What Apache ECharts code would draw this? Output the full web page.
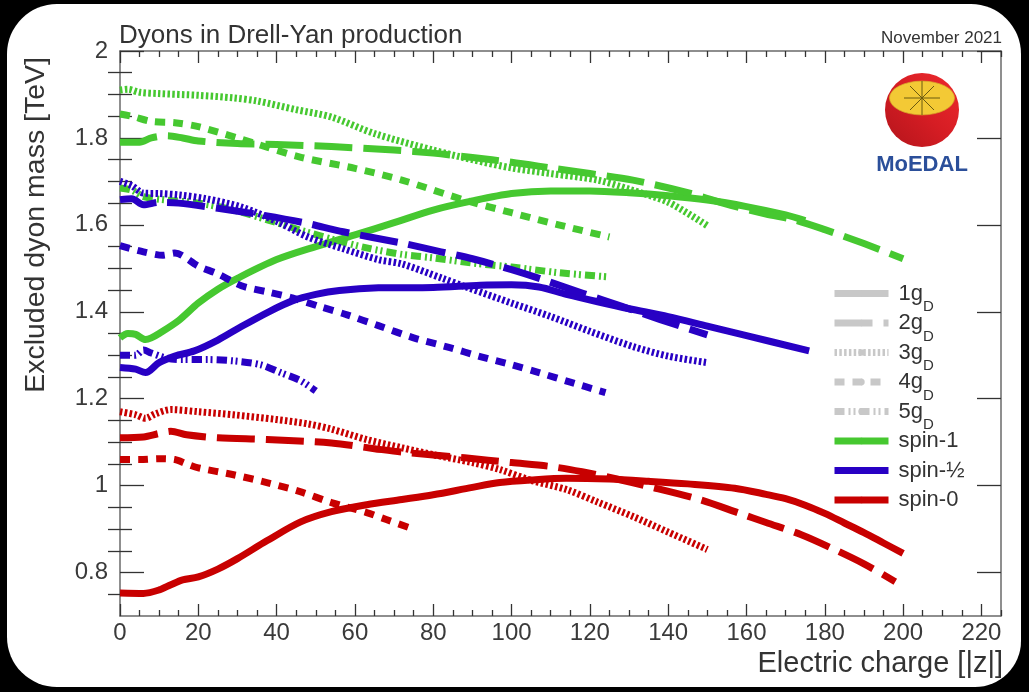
<!DOCTYPE html>
<html>
<head>
<meta charset="utf-8">
<script src="https://cdn.jsdelivr.net/npm/echarts@6/dist/echarts.min.js"></script>
<style>
  html, body { margin: 0; padding: 0; background: #000; width: 1029px; height: 692px; overflow: hidden; }
  #panel { position: absolute; left: 7px; top: 4px; width: 1014px; height: 683px; background: #fff; border-radius: 50px 50px 46px 50px; }
  #chart { position: absolute; left: 0; top: 0; width: 1029px; height: 692px; }
</style>
</head>
<body>
<div id="panel"></div>
<div id="chart"></div>
<script>
// ---- tick values / labels ----
const xTickValues = [0, 20, 40, 60, 80, 100, 120, 140, 160, 180, 200, 220];
const yTickValues = [0.8, 1.0, 1.2, 1.4, 1.6, 1.8, 2.0];

// ---- spin-1 (green) ----
const spin1_1gD = [[0,1.34],[2,1.35],[4,1.348],[6.5,1.336],[8,1.34],[10,1.35],[15,1.38],[20,1.42],[25,1.452],[30,1.477],[40,1.52],[50,1.55],[60,1.577],[70,1.605],[80,1.634],[90,1.655],[100,1.672],[110,1.678],[120,1.678],[130,1.674],[140,1.667],[150,1.657],[160,1.642],[170,1.623],[175,1.61]];
const spin1_2gD = [[0,1.79],[5,1.79],[8,1.80],[12,1.805],[16,1.80],[20,1.793],[30,1.787],[40,1.785],[54,1.78],[70,1.772],[80,1.765],[90,1.755],[100,1.744],[110,1.731],[120,1.718],[131,1.703],[145,1.674],[156,1.645],[165,1.625],[172,1.612],[180,1.589],[190,1.557],[200,1.522]];
const spin1_3gD = [[0,1.91],[2,1.912],[5,1.905],[10,1.902],[20,1.898],[29,1.892],[35,1.885],[45,1.865],[54,1.848],[65,1.81],[80,1.772],[90,1.75],[100,1.731],[110,1.718],[122,1.703],[130,1.682],[140,1.652],[150,1.598]];
const spin1_4gD = [[0,1.855],[3,1.85],[8,1.838],[14,1.835],[20,1.826],[30,1.80],[46,1.756],[60,1.73],[72,1.703],[88,1.657],[100,1.628],[112,1.60],[125,1.572]];
const spin1_5gD = [[0,1.685],[3,1.68],[6,1.665],[12,1.657],[20,1.65],[29,1.634],[40,1.605],[46,1.588],[55,1.565],[63,1.547],[72,1.532],[80,1.524],[90,1.512],[100,1.503],[112,1.49],[125,1.48]];

// ---- spin-1/2 (blue) ----
const spinHalf_1gD = [[0,1.272],[4,1.268],[6.5,1.26],[10,1.283],[14,1.298],[19,1.31],[25,1.335],[31,1.366],[38,1.4],[44,1.425],[50,1.44],[56,1.449],[66,1.455],[80,1.456],[92,1.461],[100,1.462],[107,1.457],[114,1.44],[122,1.423],[130,1.407],[140,1.389],[150,1.367],[160,1.345],[176,1.31]];
const spinHalf_2gD = [[0,1.658],[3,1.66],[6,1.646],[10,1.652],[15,1.65],[25,1.638],[36,1.623],[47,1.605],[57,1.584],[72,1.558],[82,1.538],[90,1.522],[100,1.497],[108,1.474],[118,1.443],[128,1.413],[138,1.382],[150,1.347]];
const spinHalf_3gD = [[0,1.70],[3,1.69],[6,1.673],[10,1.672],[15,1.669],[22,1.66],[31,1.641],[40,1.608],[48,1.572],[57,1.545],[66,1.52],[72,1.51],[82,1.478],[89,1.455],[100,1.42],[110,1.389],[120,1.355],[131,1.32],[140,1.298],[150,1.283]];
const spinHalf_4gD = [[0,1.552],[6,1.538],[11,1.53],[14,1.535],[20,1.505],[25,1.487],[31,1.46],[38,1.445],[44,1.432],[51,1.412],[58,1.393],[66,1.368],[75,1.34],[84,1.318],[92,1.297],[100,1.278],[107,1.26],[115,1.238],[124,1.214]];
const spinHalf_5gD = [[0,1.30],[4,1.30],[6,1.312],[8,1.305],[12,1.293],[16,1.29],[22,1.29],[29,1.287],[36,1.278],[41,1.26],[46,1.242],[50,1.218]];

// ---- spin-0 (red) ----
const spin0_1gD = [[0,0.753],[6,0.752],[10,0.76],[13,0.772],[16,0.783],[20,0.79],[25,0.808],[30,0.832],[37.5,0.873],[46,0.916],[54,0.94],[63,0.956],[72,0.968],[80,0.979],[90,0.996],[97,1.007],[105,1.013],[114,1.017],[125,1.015],[135,1.01],[145,1.004],[157,0.994],[165,0.98],[170,0.97],[175,0.955],[180,0.936],[185,0.914],[190,0.892],[195,0.868],[200,0.844]];
const spin0_2gD = [[0,1.11],[6,1.112],[10,1.12],[13,1.125],[17,1.117],[25,1.11],[37.5,1.106],[54,1.098],[65,1.085],[72,1.077],[88,1.064],[100,1.053],[110,1.044],[118,1.032],[126,1.017],[135,0.998],[148,0.968],[158,0.937],[165,0.915],[174,0.887],[182,0.855],[190,0.82],[198,0.779]];
const spin0_3gD = [[0,1.17],[4,1.163],[6.5,1.155],[9,1.165],[13,1.175],[20,1.17],[29,1.163],[40,1.152],[48,1.142],[54,1.13],[63,1.106],[72,1.087],[80,1.071],[90,1.053],[97,1.037],[105,1.012],[114,0.991],[122,0.962],[131,0.929],[140,0.893],[150,0.853]];
const spin0_4gD = [[0,1.06],[5,1.06],[10,1.062],[14,1.06],[17,1.05],[20,1.041],[29,1.025],[37.5,1.007],[46,0.986],[54,0.961],[63,0.938],[68,0.922],[74,0.903]];

// ---- legend entries ----
const legendCharges = ['1gD', '2gD', '3gD', '4gD', '5gD'];
const legendSpins = ['spin-1', 'spin-½', 'spin-0'];

const GREEN = '#46c830', BLUE = '#2800c4', RED = '#c80000', GRAY = '#c8c8c8';
const FONT = '"Liberation Sans", Arial, Helvetica, sans-serif';
const DASH = {
  '1gD': 'solid',
  '2gD': [38, 11],
  '3gD': [2.5, 2.3],
  '4gD': [10, 8],
  '5gD': [10, 4, 2, 3, 2, 4]
};

function lineSeries(name, data, color, charge) {
  return {
    name: name, type: 'line', data: data, symbol: 'none', smooth: 0.3,
    xAxisIndex: 0, yAxisIndex: 0,
    lineStyle: { color: color, width: 7, type: DASH[charge], cap: 'butt', join: 'round' },
    itemStyle: { color: color },
    emphasis: { disabled: true }, silent: true, z: 3
  };
}

const series = [
  lineSeries('spin-1 1gD', spin1_1gD, GREEN, '1gD'),
  lineSeries('spin-1 2gD', spin1_2gD, GREEN, '2gD'),
  lineSeries('spin-1 3gD', spin1_3gD, GREEN, '3gD'),
  lineSeries('spin-1 4gD', spin1_4gD, GREEN, '4gD'),
  lineSeries('spin-1 5gD', spin1_5gD, GREEN, '5gD'),
  lineSeries('spin-½ 1gD', spinHalf_1gD, BLUE, '1gD'),
  lineSeries('spin-½ 2gD', spinHalf_2gD, BLUE, '2gD'),
  lineSeries('spin-½ 3gD', spinHalf_3gD, BLUE, '3gD'),
  lineSeries('spin-½ 4gD', spinHalf_4gD, BLUE, '4gD'),
  lineSeries('spin-½ 5gD', spinHalf_5gD, BLUE, '5gD'),
  lineSeries('spin-0 1gD', spin0_1gD, RED, '1gD'),
  lineSeries('spin-0 2gD', spin0_2gD, RED, '2gD'),
  lineSeries('spin-0 3gD', spin0_3gD, RED, '3gD'),
  lineSeries('spin-0 4gD', spin0_4gD, RED, '4gD')
];
// legend-only series (no data)
legendCharges.forEach(c => series.push(lineSeries(c, [], GRAY, c)));
legendSpins.forEach((s, i) => series.push(lineSeries(s, [], [GREEN, BLUE, RED][i], '1gD')));

const xMinor = [], yMinor = [];
for (let v = 0; v <= 225; v += 5) if (v % 20 !== 0) xMinor.push(v);
for (let k = 15; k <= 39; k++) { const v = +(k * 0.05).toFixed(2); if (Math.round(v * 100) % 20 !== 0) yMinor.push(v); }

const AXLINE = { show: true, onZero: false, lineStyle: { color: '#6a6a6a', width: 1.5 } };
const TICKC = { color: '#333', width: 1.3 };

function xAx(pos, major, labels) {
  return {
    type: 'value', min: 0, max: 225, position: pos,
    axisLine: major ? AXLINE : { show: false },
    axisTick: { show: true, inside: true, length: major ? 12 : 6, lineStyle: TICKC, customValues: major ? xTickValues : xMinor },
    axisLabel: labels ? { show: true, customValues: xTickValues, fontSize: 24, fontFamily: FONT, color: '#3a3a3a', margin: 5 } : { show: false },
    splitLine: { show: false }
  };
}
function yAx(pos, major, labels) {
  return {
    type: 'value', min: 0.7, max: 2, position: pos,
    axisLine: major ? AXLINE : { show: false },
    axisTick: { show: true, inside: true, length: major ? 24 : 12, lineStyle: TICKC, customValues: major ? yTickValues : yMinor },
    axisLabel: labels ? { show: true, customValues: yTickValues, fontSize: 24, fontFamily: FONT, color: '#3a3a3a', margin: 12 } : { show: false },
    splitLine: { show: false }
  };
}

const chart = echarts.init(document.getElementById('chart'), null, { renderer: 'canvas' });
chart.setOption({
  backgroundColor: 'transparent',
  animation: false,
  textStyle: { fontFamily: FONT },
  title: [
    { text: 'Dyons in Drell-Yan production', left: 119, top: 23, padding: 0,
      textStyle: { fontSize: 26, fontWeight: 'normal', color: '#333', fontFamily: FONT } },
    { text: 'November 2021', right: 27, top: 30, padding: 0,
      textStyle: { fontSize: 17, fontWeight: 'normal', color: '#333', fontFamily: FONT } }
  ],
  grid: { left: 120, right: 28, top: 51, bottom: 76, containLabel: false, outerBoundsMode: 'none' },
  xAxis: [xAx('bottom', true, true), xAx('bottom', false, false), xAx('top', true, false), xAx('top', false, false)],
  yAxis: [yAx('left', true, true), yAx('left', false, false), yAx('right', true, false), yAx('right', false, false)],
  legend: {
    data: legendCharges.concat(legendSpins),
    orient: 'vertical', left: 831, top: 279, padding: 0, itemWidth: 54, itemHeight: 8, itemGap: -6,
    selectedMode: false,
    lineStyle: { width: 7 },
    formatter: n => n.endsWith('gD') ? n.slice(0, -1) + '{s|D}' : n + '{s|\u200b}',
    textStyle: {
      fontSize: 22, color: '#333', fontFamily: FONT, lineHeight: 29, padding: [0, 0, 0, 5],
      rich: { s: { fontSize: 15, color: '#333', fontFamily: FONT, height: 2, lineHeight: 29, verticalAlign: 'bottom' } }
    }
  },
  graphic: [
    { type: 'text', x: 36, y: 57, rotation: Math.PI / 2, silent: true,
      style: { text: 'Excluded dyon mass [TeV]', font: '28.5px ' + FONT, fill: '#333', textAlign: 'right', textVerticalAlign: 'middle' } },
    { type: 'text', x: 1003, y: 664, silent: true,
      style: { text: 'Electric charge [|z|]', font: '29px ' + FONT, fill: '#333', textAlign: 'right', textVerticalAlign: 'middle' } },
    // MoEDAL logo
    { type: 'group', x: 922, y: 110, silent: true, children: [
      { type: 'circle', shape: { cx: 0, cy: 0, r: 37 },
        style: { fill: new echarts.graphic.LinearGradient(0, 1, 1, 0, [{ offset: 0, color: '#b3141b' }, { offset: 0.5, color: '#d61d24' }, { offset: 1, color: '#ee2a2e' }]) } },
      { type: 'circle', shape: { cx: 0, cy: 0, r: 32.5 }, y: -12, scaleY: 0.52,
        style: { fill: '#f3c935', stroke: '#d8a82a', lineWidth: 1 } },
      { type: 'line', shape: { x1: -18, y1: -12, x2: 18, y2: -12 }, style: { stroke: '#6b5a10', lineWidth: 1 } },
      { type: 'line', shape: { x1: 0, y1: -29, x2: 0, y2: 5 }, style: { stroke: '#6b5a10', lineWidth: 1 } },
      { type: 'line', shape: { x1: -12, y1: -24, x2: 12, y2: 0 }, style: { stroke: '#6b5a10', lineWidth: 1 } },
      { type: 'line', shape: { x1: -12, y1: 0, x2: 12, y2: -24 }, style: { stroke: '#6b5a10', lineWidth: 1 } },
      { type: 'text', x: 0, y: 55, style: { text: 'MoEDAL', font: 'bold 22px ' + FONT, fill: '#2b4f9a', textAlign: 'center', textVerticalAlign: 'middle' } }
    ] }
  ],
  series: series
});
</script>
</body>
</html>
